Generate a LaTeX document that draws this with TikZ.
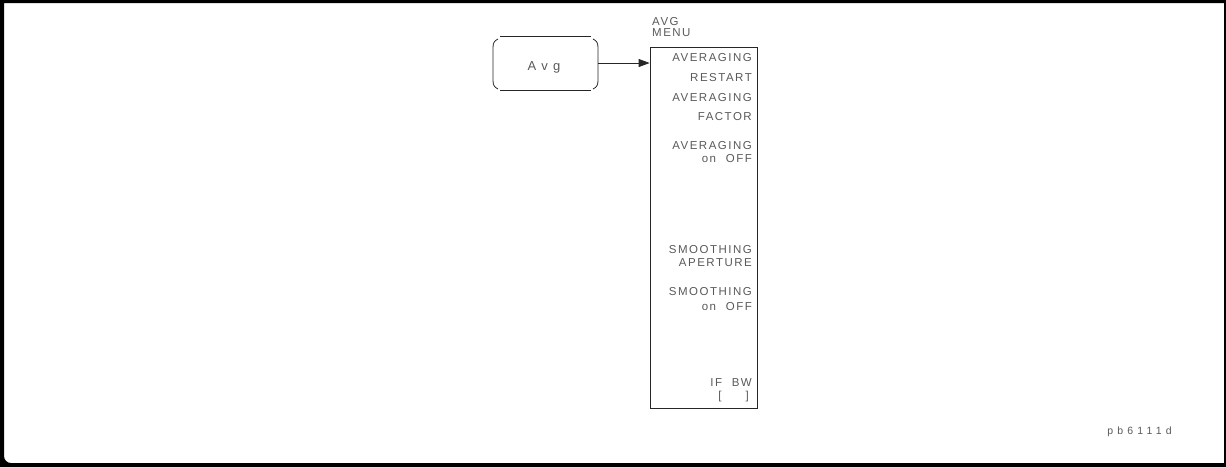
\documentclass[tikz,border=0pt]{standalone}
\usepackage{fontspec}
\setmainfont{Liberation Sans}
\newfontfamily\hp[LetterSpace=13]{Liberation Sans}
\newfontfamily\hpw[LetterSpace=40]{Liberation Sans}
\usetikzlibrary{arrows.meta}
\begin{document}
\begin{tikzpicture}[x=1pt,y=-1pt,
  lbl/.style={font=\hp\fontsize{11.5}{12}\selectfont, text=black!65, inner sep=0pt},
  item/.style={lbl, anchor=east},
  ln/.style={line width=0.8pt, black!85}]
\useasboundingbox (0,0) rectangle (1226,467);
% frame
\fill[black, even odd rule] (0,0) rectangle (1226,467)
  (4,3) -- (1224,3) -- (1224,463) [rounded corners=7pt] -- (4,463) [sharp corners] -- cycle;
% Avg key
\node[minimum width=105pt, minimum height=54pt, inner sep=0pt] (avg) at (545.5,63) {};
\node[lbl, font=\hpw\fontsize{13}{14}\selectfont] (avgt) at (544,67) {Avg};
\draw[ln] (500,36) -- (591,36);
\draw[ln] (500,90) -- (591,90);
\draw[ln] (498,39) .. controls (494,41) and (493,43) .. (493,48) -- (493,80) .. controls (493,85) and (494,87) .. (498,89);
\draw[ln] (593,39) .. controls (597,41) and (598,43) .. (598,48) -- (598,80) .. controls (598,85) and (597,87) .. (593,89);
% menu
\node[draw, ln, minimum width=107pt, minimum height=361pt, inner sep=0pt] (menu) at (703.5,227.5) {};
\node[lbl, anchor=west, align=left, font=\hp\fontsize{11.5}{12.5}\selectfont] (title) at (652,27) {AVG\\[-1pt]MENU};
\draw[ln, -{Stealth[length=11pt,width=8pt,inset=0pt]}] (avg.east) -- (menu.west |- avg.east);
\node[item] (a1) at (752,58) {AVERAGING};
\node[item] (a2) at (752,78) {RESTART};
\node[item] (a3) at (752,98) {AVERAGING};
\node[item] (a4) at (752,117) {FACTOR};
\node[item] (a5) at (752,146) {AVERAGING};
\node[item] (a6) at (752,159) {on\hspace{5pt} OFF};
\node[item] (s1) at (752,250) {SMOOTHING};
\node[item] (s2) at (752,263) {APERTURE};
\node[item] (s3) at (752,292) {SMOOTHING};
\node[item] (s4) at (752,307) {on\hspace{5pt} OFF};
\node[item] (b1) at (752,383) {IF\hspace{5pt} BW};
\node[item] (b2) at (749,397) {[\hspace{24pt}]};
\node[lbl, anchor=east, font=\hpw\fontsize{10.5}{11}\selectfont] (code) at (1172,432) {pb6111d};
\end{tikzpicture}
\end{document}
